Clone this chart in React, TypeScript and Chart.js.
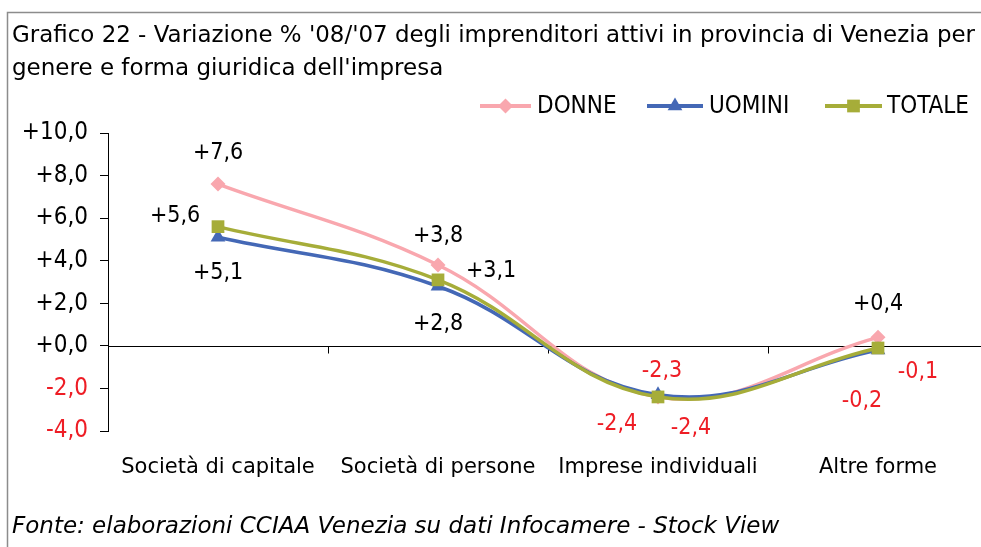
import React, { useEffect, useRef } from "react";
import { Chart, registerables } from "chart.js";
Chart.register(...registerables);

const categories = ["Società di capitale", "Società di persone", "Imprese individuali", "Altre forme"];
const donne = [7.6, 3.8, -2.4, 0.4];
const uomini = [5.1, 2.8, -2.3, -0.2];
const totale = [5.6, 3.1, -2.4, -0.1];
const seriesNames = ["DONNE", "UOMINI", "TOTALE"];
const yMin = -4;
const yMax = 10;
const yStep = 2;
const titleLines = [
  "Grafico 22 - Variazione % '08/'07 degli imprenditori attivi in provincia di Venezia per",
  "genere e forma giuridica dell'impresa",
];
const footerText = "Fonte: elaborazioni CCIAA Venezia su dati Infocamere - Stock View";

// label placement offsets (px) per series / point
const labelOffsets = [
  [[0, -31], [0, -29], [-41, 27], [0, -33]],
  [[0, 36], [0, 38], [4, -24], [-16, 51]],
  [[-43, -11], [53, -9], [33, 31], [40, 24]],
];

const FONT = "'DejaVu Sans Condensed', 'DejaVu Sans', sans-serif";
const WFONT = "'DejaVu Sans', sans-serif";
const RED = "#ee1d25";
const COLORS = ["#f9a7ae", "#4468b6", "#a6ad39"];
const STYLES = ["rectRot", "triangle", "rect"];
const RADII = [7.5, 8.5, 9];

const fmt = (v: number) => (v >= 0 ? "+" : "") + v.toFixed(1).replace(".", ",");

function drawMarker(ctx: CanvasRenderingContext2D, style: string, r: number, x: number, y: number, color: string) {
  ctx.save();
  ctx.fillStyle = color;
  ctx.beginPath();
  if (style === "rectRot") {
    ctx.moveTo(x, y - r);
    ctx.lineTo(x + r, y);
    ctx.lineTo(x, y + r);
    ctx.lineTo(x - r, y);
  } else if (style === "triangle") {
    ctx.moveTo(x, y - r);
    ctx.lineTo(x + r * 0.866, y + r * 0.5);
    ctx.lineTo(x - r * 0.866, y + r * 0.5);
  } else {
    const s = r * Math.SQRT1_2;
    ctx.rect(x - s, y - s, 2 * s, 2 * s);
  }
  ctx.closePath();
  ctx.fill();
  ctx.restore();
}

const decorPlugin = {
  id: "decor",
  beforeDraw(chart: any) {
    const ctx = chart.ctx;
    ctx.save();
    ctx.fillStyle = "#ffffff";
    ctx.fillRect(0, 0, chart.width, chart.height);
    ctx.strokeStyle = "#8c8c8c";
    ctx.lineWidth = 1.5;
    ctx.strokeRect(7.5, 12.5, 2000, 2000);
    ctx.fillStyle = "#000";
    ctx.textBaseline = "middle";
    ctx.textAlign = "left";
    ctx.font = `23px ${WFONT}`;
    ctx.fillText(titleLines[0], 12, 36, 963);
    ctx.fillText(titleLines[1], 12, 69);
    ctx.font = `italic 23px ${WFONT}`;
    ctx.fillText(footerText, 12, 527, 773);
    // legend
    const items = [
      { x1: 480, x2: 531, tx: 537 },
      { x1: 647, x2: 703, tx: 709 },
      { x1: 825, x2: 882, tx: 887 },
    ];
    ctx.font = `24px ${FONT}`;
    items.forEach((it, i) => {
      const y = 106;
      ctx.strokeStyle = COLORS[i];
      ctx.lineWidth = 4;
      ctx.beginPath();
      ctx.moveTo(it.x1, y);
      ctx.lineTo(it.x2, y);
      ctx.stroke();
      drawMarker(ctx, STYLES[i], RADII[i], (it.x1 + it.x2) / 2, y, COLORS[i]);
      ctx.fillStyle = "#000";
      ctx.fillText(seriesNames[i], it.tx, y + 1);
    });
    ctx.restore();
  },
  beforeDatasetsDraw(chart: any) {
    const ctx = chart.ctx;
    const ys = chart.scales.y;
    const y0 = Math.round(ys.getPixelForValue(0)) + 0.5;
    const { left, right } = chart.chartArea;
    ctx.save();
    ctx.strokeStyle = "#000";
    ctx.lineWidth = 1;
    ctx.beginPath();
    ctx.moveTo(left, y0);
    ctx.lineTo(right + 20, y0);
    const w = (right - left) / categories.length;
    for (let i = 1; i < categories.length; i++) {
      const x = Math.round(left + i * w) + 0.5;
      ctx.moveTo(x, y0);
      ctx.lineTo(x, y0 + 7);
    }
    ctx.stroke();
    ctx.restore();
  },
  afterDatasetsDraw(chart: any) {
    const ctx = chart.ctx;
    ctx.save();
    ctx.font = `23px ${FONT}`;
    ctx.textAlign = "center";
    ctx.textBaseline = "middle";
    chart.data.datasets.forEach((ds: any, di: number) => {
      const meta = chart.getDatasetMeta(di);
      meta.data.forEach((pt: any, pi: number) => {
        const v = ds.data[pi];
        const [dx, dy] = labelOffsets[di][pi];
        ctx.fillStyle = v < 0 ? RED : "#000";
        ctx.fillText(fmt(v), pt.x + dx, pt.y + dy);
      });
    });
    ctx.restore();
  },
};

export default function App() {
  const ref = useRef<HTMLCanvasElement>(null);
  useEffect(() => {
    document.body.style.margin = "0";
    const seriesData = [donne, uomini, totale];
    const chart = new Chart(ref.current as HTMLCanvasElement, {
      type: "line",
      data: {
        labels: categories,
        datasets: seriesData.map((d, i) => ({
          label: seriesNames[i],
          data: d,
          borderColor: COLORS[i],
          backgroundColor: COLORS[i],
          borderWidth: 3.5,
          tension: 0.4,
          pointStyle: STYLES[i] as any,
          pointRadius: RADII[i],
          pointBorderWidth: 0,
          pointBackgroundColor: COLORS[i],
          order: 3 - i,
        })),
      },
      plugins: [decorPlugin],
      options: {
        animation: false,
        responsive: false,
        devicePixelRatio: 1,
        layout: { padding: { top: 133, right: 12, left: 0, bottom: 0 } },
        plugins: { legend: { display: false }, tooltip: { enabled: false }, title: { display: false } },
        scales: {
          x: {
            type: "category",
            offset: true,
            grid: { display: false, drawTicks: false },
            border: { display: false },
            ticks: { color: "#000", font: { family: WFONT, size: 21 }, padding: 24, maxRotation: 0, autoSkip: false },
            afterFit: (s: any) => { s.height = 116; },
          },
          y: {
            min: yMin,
            max: yMax,
            grid: { display: true, drawOnChartArea: false, drawTicks: true, tickLength: 8, color: "#000" },
            border: { display: true, color: "#000", width: 1 },
            ticks: {
              stepSize: yStep,
              padding: 12,
              font: { family: FONT, size: 24 },
              color: (c: any) => (c.tick && c.tick.value < 0 ? RED : "#000"),
              callback: (v: any) => fmt(Number(v)),
            },
            afterFit: (s: any) => { s.width = 108; },
          },
        },
      },
    });
    return () => chart.destroy();
  }, []);
  return (
    <div style={{ width: 981, height: 547, overflow: "hidden", position: "relative" }}>
      <canvas ref={ref} width={1000} height={547} style={{ display: "block" }} />
    </div>
  );
}
